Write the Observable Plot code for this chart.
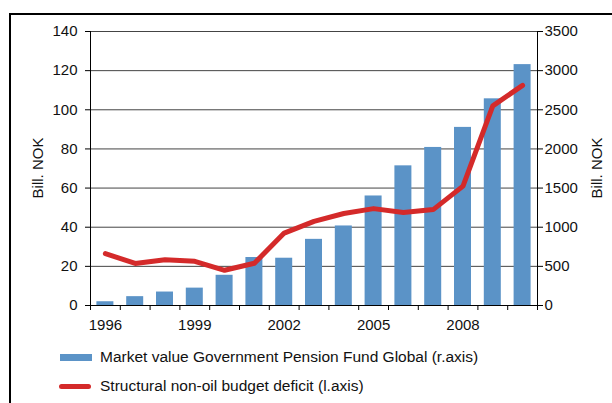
<!DOCTYPE html>
<html>
<head>
<meta charset="utf-8">
<script src="https://cdn.jsdelivr.net/npm/d3@7"></script>
<script src="https://cdn.jsdelivr.net/npm/@observablehq/plot@0.6"></script>
<style>
  html, body { margin: 0; padding: 0; background: #fff; overflow: hidden; }
  body { width: 612px; height: 403px; position: relative; font-family: "Liberation Sans", Arial, sans-serif; }
  #frame { position: absolute; left: 9px; top: 13px; width: 700px; height: 500px; border: 2px solid #000; box-sizing: border-box; }
  #chart { position: absolute; left: 0; top: 0; }
  .leg { position: absolute; left: 0; font-size: 15.5px; color: #111; }
  .leg .txt { position: absolute; left: 100px; white-space: nowrap; line-height: 18px; }
  .yl { position: absolute; font-size: 15px; color: #111; white-space: nowrap; transform-origin: center; line-height: 18px; }
</style>
</head>
<body>
<div id="frame"></div>
<div id="chart"></div>
<div class="yl" id="ylL">Bill. NOK</div>
<div class="yl" id="ylR">Bill. NOK</div>
<div class="leg" style="top:348px;">
  <div style="position:absolute;left:60px;top:6px;width:32px;height:7px;background:#5b93c7;"></div>
  <div class="txt" style="top:0px;">Market value Government Pension Fund Global (r.axis)</div>
</div>
<div class="leg" style="top:377px;">
  <div style="position:absolute;left:59px;top:7px;width:32px;height:5px;background:#d42a2a;border-radius:3px;"></div>
  <div class="txt" style="top:0px;">Structural non-oil budget deficit (l.axis)</div>
</div>
<script>
const years = [1996,1997,1998,1999,2000,2001,2002,2003,2004,2005,2006,2007,2008,2009,2010];
const fundValue = [48,113,172,222,386,613,604,845,1016,1399,1784,2019,2275,2640,3077]; // right axis
const deficit = [26.5,21.5,23.4,22.6,18,21.6,37,43,47,49.5,47.5,49,61,102,112.5]; // left axis
const leftTicks = [0,20,40,60,80,100,120,140];
const rightTicks = [0,500,1000,1500,2000,2500,3000,3500];
const xLabels = [1996,1999,2002,2005,2008];

const ratio = 3500/140;
const data = years.map((y,i) => ({year: y, fund: fundValue[i], deficit: deficit[i]}));

const chart = Plot.plot({
  width: 612,
  height: 340,
  marginLeft: 90,
  marginRight: 75,
  marginTop: 31,
  marginBottom: 35,
  style: {fontFamily: "Liberation Sans, Arial, sans-serif", fontSize: "15px", color: "#111", background: "transparent"},
  x: {domain: [years[0]-0.5, years[years.length-1]+0.5]},
  y: {domain: [0, 140]},
  marks: [
    Plot.gridY(leftTicks, {stroke: "#444", strokeOpacity: 1, strokeWidth: 1}),
    Plot.rectY(data, {x1: d => d.year-0.5, x2: d => d.year+0.5, y: d => d.fund/ratio, fill: "#5b93c7", insetLeft: 6.4, insetRight: 6.4}),
    Plot.line(data, {x: "year", y: "deficit", stroke: "#d42a2a", strokeWidth: 5, strokeLinecap: "round", strokeLinejoin: "round"}),
    Plot.axisY(leftTicks, {anchor: "left", tickSize: 5, tickPadding: 8, label: null, stroke: "#000"}),
    Plot.axisY(rightTicks.map(v => v/ratio), {anchor: "right", tickSize: 5, tickPadding: 2, label: null, tickFormat: v => String(Math.round(v*ratio)), stroke: "#000"}),
    Plot.axisX(d3.range(years[0]-0.5, years[years.length-1]+1, 1), {tickSize: 5, tickFormat: () => "", label: null, stroke: "#000"}),
    Plot.axisX(xLabels, {tickSize: 0, tickPadding: 14, tickFormat: d => String(d), label: null}),
    Plot.ruleX([years[0]-0.5, years[years.length-1]+0.5], {stroke: "#000"}),
    Plot.ruleY([0], {stroke: "#000"})
  ]
});
document.getElementById("chart").appendChild(chart);

const yl = document.getElementById("ylL");
yl.style.left = (38 - 40) + "px"; yl.style.top = "159px"; yl.style.width = "80px"; yl.style.textAlign = "center";
yl.style.transform = "rotate(-90deg)";
const yr = document.getElementById("ylR");
yr.style.left = (597 - 40) + "px"; yr.style.top = "159px"; yr.style.width = "80px"; yr.style.textAlign = "center";
yr.style.transform = "rotate(-90deg)";
</script>
</body>
</html>
